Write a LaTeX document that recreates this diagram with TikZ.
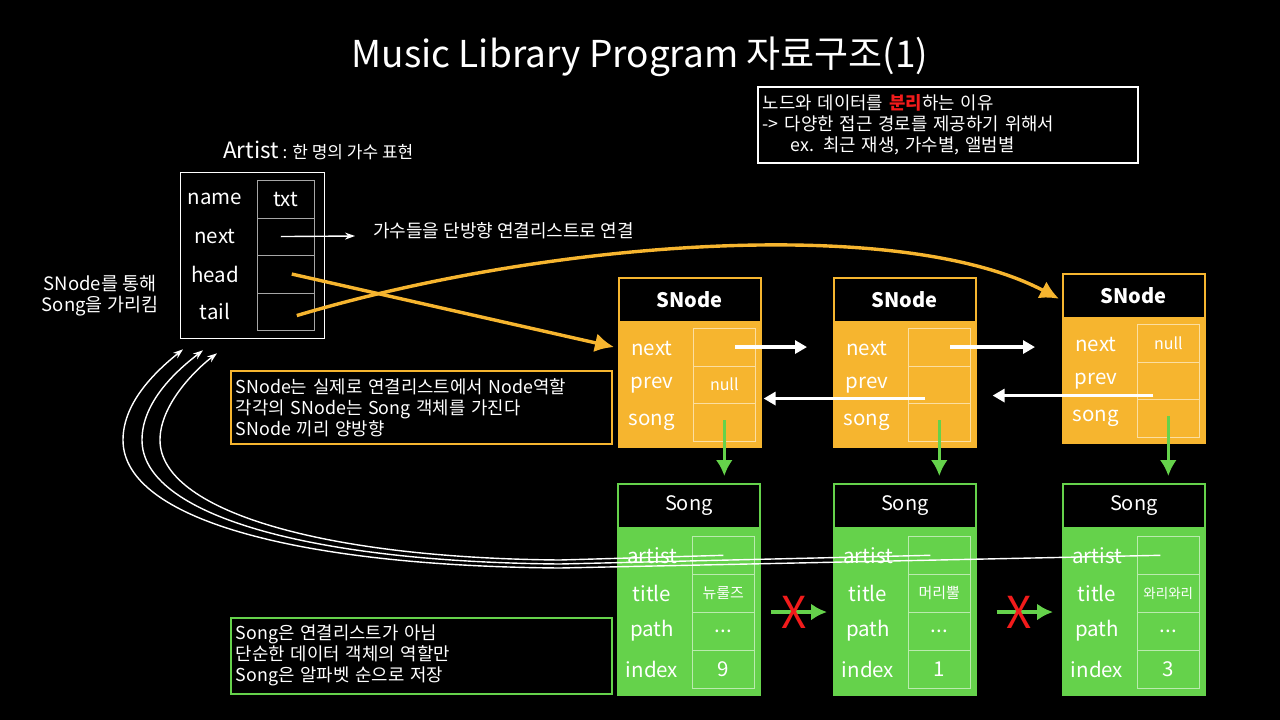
\documentclass[tikz,border=0pt]{standalone}
\usepackage{fontspec}
\setmainfont{Noto Sans CJK KR}
\usetikzlibrary{arrows.meta, positioning}

\definecolor{snodeorange}{HTML}{F6B52F}
\definecolor{songgreen}{HTML}{65D24B}
\definecolor{markred}{HTML}{F21B1B}

\begin{document}
\begin{tikzpicture}[
    x=1pt, y=-1pt,
    every node/.style={text=white, inner sep=0pt},
    header/.style={draw, line width=1.6pt, fill=black, minimum width=142pt, minimum height=44pt},
    body/.style={draw, line width=1.6pt, minimum width=142pt},
    cell/.style={draw, line width=0.6pt, minimum width=62pt},
    field/.style={font=\fontsize{20.5}{21}\selectfont},
    note/.style={draw, line width=1.6pt, fill=black, minimum width=381pt, anchor=north west,
        align=left, text width=371pt, inner sep=5pt, font=\fontsize{17.8}{21}\selectfont},
    ptr/.style={-{Triangle[length=12pt,width=13pt]}, white, line width=3.2pt},
    orangeptr/.style={-{Latex[length=19pt,width=19pt]}, snodeorange, line width=3.4pt},
    greenptr/.style={-{Latex[length=16pt,width=17pt]}, songgreen, line width=3.4pt},
    back/.style={-{Stealth[length=10pt,width=7pt]}, white, line width=1.4pt},
]
\useasboundingbox (0,0) rectangle (1280,720);
\fill[black] (0,0) rectangle (1280,720);

\node[font=\fontsize{37}{40}\selectfont] (title) at (640,57) {Music Library Program 자료구조(1)};

% why node and data are split
\node[note, draw=white, minimum width=380pt, minimum height=76pt, text width=370pt] (why) at (757,86)
    {노드와 데이터를 {\color{markred}\bfseries 분리}하는 이유\\-> 다양한 접근 경로를 제공하기 위해서\\\hspace*{28pt}ex. 최근 재생, 가수별, 앨범별};

% Artist
\node[anchor=west] (artistlbl) at (223,150)
    {{\fontsize{22.5}{24}\selectfont Artist}{\fontsize{17}{18}\selectfont\ : 한 명의 가수 표현}};
\node[draw=white, line width=1.3pt, minimum width=144pt, minimum height=166pt, anchor=north west] (artist) at (180,172) {};
\foreach \f/\v [count=\k from 0] in {name/txt, next/, head/, tail/} {
    \node[cell, draw=white!65!black, minimum width=57pt, minimum height=37.5pt, anchor=north west, field] (a-\f) at (257,180+37.5*\k) {\v};
    \node[field] (a-\f-lbl) at (215,199+37.5*\k) {\f};
}
\node[anchor=west, font=\fontsize{18}{20}\selectfont] (artistnote) at (373,231) {가수들을 단방향 연결리스트로 연결};
\coordinate (nextend) at (355,236);
\draw[back] ([xshift=-5pt]a-next.center) -- (nextend);

\node[align=center, font=\fontsize{18.5}{21}\selectfont] (viasnode) at (100,296) {SNode를 통해\\Song을 가리킴};

% SNodes
\foreach \i/\x/\y/\nx/\pv in {1/618/277/{}/null, 2/833/277/{}/{}, 3/1062/273/null/{}} {
    \node[header, draw=snodeorange, anchor=north west, font=\fontsize{20}{20}\selectfont\bfseries] (sn\i) at (\x,\y) {SNode};
    \node[body, draw=snodeorange, fill=snodeorange, minimum height=124pt, anchor=north] (snb\i) at (sn\i.south) {};
    \node[cell, draw=white!55!snodeorange, minimum height=37.5pt, anchor=north west, font=\fontsize{16}{16}\selectfont] (sn\i-next) at (\x+75,\y+51) {\nx};
    \node[cell, draw=white!55!snodeorange, minimum height=37.5pt, anchor=north west, font=\fontsize{16}{16}\selectfont] (sn\i-prev) at (\x+75,\y+88.5) {\pv};
    \node[cell, draw=white!55!snodeorange, minimum height=37.5pt, anchor=north west] (sn\i-song) at (\x+75,\y+126) {};
    \node[field] (sn\i-nextl) at (\x+34,\y+71) {next};
    \node[field] (sn\i-prevl) at (\x+34,\y+108) {prev};
    \node[field] (sn\i-songl) at (\x+34,\y+145) {song};
}

% Songs
\foreach \i/\x/\t/\tf/\n in {1/617/뉴룰즈/15/9, 2/833/머리뿔/15/1, 3/1062/와리와리/13.5/3} {
    \node[header, draw=songgreen, anchor=north west, font=\fontsize{20}{20}\selectfont] (sg\i) at (\x,483) {Song};
    \node[body, draw=songgreen, fill=songgreen, minimum height=166pt, anchor=north] (sgb\i) at (sg\i.south) {};
    \node[cell, draw=white!55!songgreen, minimum height=38pt, anchor=north west] (sg\i-artist) at (\x+75,536) {};
    \node[cell, draw=white!55!songgreen, minimum height=38pt, anchor=north west, font=\fontsize{\tf}{\tf}\selectfont] (sg\i-title) at (\x+75,574) {\t};
    \node[cell, draw=white!55!songgreen, minimum height=38pt, anchor=north west, field] (sg\i-path) at (\x+75,612) {...};
    \node[cell, draw=white!55!songgreen, minimum height=38pt, anchor=north west, field] (sg\i-index) at (\x+75,650) {\n};
    \node[field] (sg\i-artistl) at (\x+35,556) {artist};
    \node[field] (sg\i-titlel) at (\x+35,593) {title};
    \node[field] (sg\i-pathl) at (\x+35,631) {path};
    \node[field] (sg\i-indexl) at (\x+35,669) {index};
}

% Notes
\node[note, draw=snodeorange, minimum height=73pt] (snnote) at (230,370)
    {SNode는 실제로 연결리스트에서 Node역할\\각각의 SNode는 Song 객체를 가진다\\SNode 끼리 양방향};
\node[note, draw=songgreen, minimum height=76pt] (songnote) at (230,617)
    {Song은 연결리스트가 아님\\단순한 데이터 객체의 역할만\\Song은 알파벳 순으로 저장};

% artist head / tail
\draw[orangeptr] ([xshift=6pt]a-head.center) -- ([xshift=-4pt]snb1.west |- sn1-next.center);
\draw[orangeptr] ([xshift=11pt,yshift=-4pt]a-tail.center) .. controls (550,240) and (900,215) .. ([xshift=-3pt,yshift=-3pt]sn3.west);

% next / prev
\draw[ptr] ([xshift=11pt]sn1-next.center) -- ([xshift=-26pt]snb2.west |- sn1-next.center);
\draw[ptr] ([xshift=11pt]sn2-next.center) -- ([xshift=-27pt]snb3.west |- sn2-next.center);
\draw[ptr] ([xshift=-14pt,yshift=-14pt]sn2-prev.center) -- ([xshift=2pt,yshift=-14pt]sn1-prev.center -| snb1.east);
\draw[ptr] ([xshift=-15pt,yshift=-15pt]sn3-prev.center) -- ([xshift=16pt,yshift=-15pt]sn3-prev.center -| snb2.east);

% SNode -> Song
\foreach \i in {1,2,3}
    \draw[greenptr] ([yshift=2pt]sn\i-song.center) -- ([yshift=7pt]sg\i.north -| sn\i-song.center);

% no link between songs
\draw[greenptr] ([xshift=10pt]sgb1.east |- sg1-path.north) -- node[pos=0.42, text=markred, font=\fontsize{44}{44}\selectfont] (nolink1) {X} ([xshift=-6pt]sgb2.west |- sg1-path.north);
\draw[greenptr] ([xshift=20pt]sgb2.east |- sg2-path.north) -- node[pos=0.4, text=markred, font=\fontsize{44}{44}\selectfont] (nolink2) {X} ([xshift=-9pt]sgb3.west |- sg2-path.north);

% song -> artist
\draw[back] (sg1-artist.center) -- (560,560) .. controls (320,558) and (160,510) .. (160,440) .. controls (160,405) and (195,370) .. ([xshift=37pt,yshift=-14pt]artist.south west);
\draw[back] ([xshift=-9pt]sg2-artist.center) -- (560,564) .. controls (310,562) and (142,515) .. (142,440) .. controls (142,400) and (180,368) .. ([xshift=23pt,yshift=-11pt]artist.south west);
\draw[back] ([xshift=-8pt]sg3-artist.center) -- (560,568) .. controls (300,566) and (123,520) .. (123,440) .. controls (123,400) and (160,368) .. ([xshift=3pt,yshift=-10pt]artist.south west);

\end{tikzpicture}
\end{document}
